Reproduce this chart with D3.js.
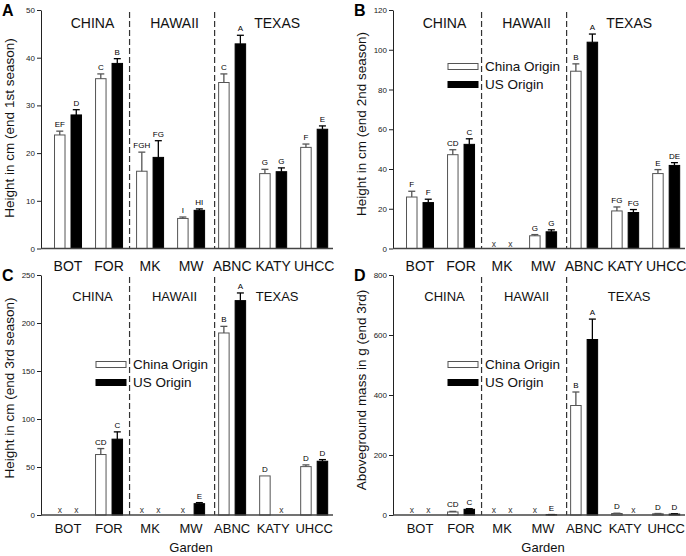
<!DOCTYPE html>
<html>
<head>
<meta charset="utf-8">
<script src="https://cdn.jsdelivr.net/npm/d3@7"></script>
<style>
  body { margin: 0; background: #fff; }
  svg { display: block; font-family: Arial, "Liberation Sans", sans-serif; }
</style>
</head>
<body>
<svg id="chart" width="686" height="556"></svg>
<script>
// gardens and the region each one belongs to
const gardens = ['BOT', 'FOR', 'MK', 'MW', 'ABNC', 'KATY', 'UHCC'];
const regionNames = ['CHINA', 'HAWAII', 'TEXAS'];
const gardenRegion = [0, 0, 1, 1, 2, 2, 2];
const seriesNames = ['China Origin', 'US Origin'];

// A: height end of 1st season (cm)
const s1China = [23.8, 35.6, 16.2, 6.3, 34.8, 15.7, 21.2];
const s1ChinaErr = [0.8, 1.0, 4.0, 0.3, 1.8, 0.9, 0.7];
const s1US = [28.0, 38.8, 19.1, 8.0, 42.9, 16.1, 25.0];
const s1USErr = [1.1, 1.0, 3.5, 0.3, 1.8, 0.8, 0.7];
const s1ChinaLetters = ['EF', 'C', 'FGH', 'I', 'C', 'G', 'F'];
const s1USLetters = ['D', 'B', 'FG', 'HI', 'A', 'G', 'E'];

// B: height end of 2nd season (cm), null = no survivors (x)
const s2China = [25.9, 47.2, null, 6.4, 89.2, 18.9, 37.7];
const s2ChinaErr = [2.9, 2.5, 0, 0.6, 3.7, 2.0, 2.0];
const s2US = [23.1, 52.4, null, 8.4, 103.8, 18.1, 41.8];
const s2USErr = [1.7, 2.8, 0, 1.0, 4.1, 1.5, 1.4];
const s2ChinaLetters = ['F', 'CD', 'x', 'G', 'B', 'FG', 'E'];
const s2USLetters = ['F', 'C', 'x', 'G', 'A', 'FG', 'DE'];

// C: height end of 3rd season (cm)
const s3China = [null, 63.0, null, null, 189.6, 40.7, 50.4];
const s3ChinaErr = [0, 6.2, 0, 0, 6.9, 0, 1.8];
const s3US = [null, 79.0, null, 11.8, 223.3, null, 56.0];
const s3USErr = [0, 7.6, 0, 1.1, 8.0, 0, 1.7];
const s3ChinaLetters = ['x', 'CD', 'x', 'x', 'B', 'D', 'D'];
const s3USLetters = ['x', 'C', 'x', 'E', 'A', 'x', 'D'];

// D: aboveground mass end of 3rd season (g)
const massChina = [null, 10, null, null, 365, 5, 4];
const massChinaErr = [0, 2, 0, 0, 45, 1, 1];
const massUS = [null, 19, null, 1, 585, null, 3];
const massUSErr = [0, 2, 0, 0.5, 68, 0, 1];
const massChinaLetters = ['x', 'CD', 'x', 'x', 'B', 'D', 'D'];
const massUSLetters = ['x', 'C', 'x', 'E', 'A', 'x', 'D'];

const panels = [
    { id: 'A', x0: 41, top: 10, base: 248.5, max: 50, step: 10, ylabel: 'Height in cm (end 1st season)', labelY: 128,
      china: s1China, chinaErr: s1ChinaErr, us: s1US, usErr: s1USErr, chinaL: s1ChinaLetters, usL: s1USLetters,
      legend: false, big: true },
    { id: 'B', x0: 393, top: 10, base: 248.5, max: 120, step: 20, ylabel: 'Height in cm (end 2nd season)', labelY: 124,
      china: s2China, chinaErr: s2ChinaErr, us: s2US, usErr: s2USErr, chinaL: s2ChinaLetters, usL: s2USLetters,
      legend: true, legendY: 66.5, big: true },
    { id: 'C', x0: 41, top: 275, base: 515, max: 250, step: 50, ylabel: 'Height in cm (end 3rd season)', labelY: 388,
      china: s3China, chinaErr: s3ChinaErr, us: s3US, usErr: s3USErr, chinaL: s3ChinaLetters, usL: s3USLetters,
      legend: true, legendY: 364.5, big: false },
    { id: 'D', x0: 393, top: 275, base: 515, max: 800, step: 200, ylabel: 'Aboveground mass in g (end 3rd)', labelY: 390,
      china: massChina, chinaErr: massChinaErr, us: massUS, usErr: massUSErr, chinaL: massChinaLetters, usL: massUSLetters,
      legend: true, legendY: 364.5, big: false }
];

const svg = d3.select('#chart');

panels.forEach(p => {
    const g = svg.append('g');
    const y = d3.scaleLinear().domain([0, p.max]).range([p.base, p.top]);
    const x = d3.scaleBand().domain(gardens).range([p.x0 + 6.5, p.x0 + 6.5 + 287.2]);
    const sub = d3.scaleBand().domain(seriesNames).range([-13.5, 13.5]).paddingInner(0.364);
    const cx = d => x(d) + x.bandwidth() / 2;

    // panel letter
    g.append('text')
        .attr('x', p.x0 - 39)
        .attr('y', p.top + 6)
        .attr('font-size', 16)
        .attr('font-weight', 'bold')
        .text(p.id);

    // dashed separators between regions (the Texas one sits a little right in the original)
    [[2, 0], [4, 3]].forEach(([i, shift]) => {
        g.append('line')
            .attr('x1', x(gardens[i]) + shift).attr('x2', x(gardens[i]) + shift)
            .attr('y1', p.top + 2).attr('y2', p.base)
            .attr('stroke', '#333')
            .attr('stroke-width', 1.2)
            .attr('stroke-dasharray', '6,3');
    });

    // region titles
    regionNames.forEach((r, ri) => {
        const members = gardens.filter((d, i) => gardenRegion[i] === ri);
        g.append('text')
            .attr('x', d3.mean(members, cx) + 4)
            .attr('y', p.top + (p.big ? 18 : 25.5))
            .attr('text-anchor', 'middle')
            .attr('font-size', p.big ? 14 : 13)
            .attr('fill', '#111')
            .text(r);
    });

    // bars, error bars and letters
    const series = [
        { name: seriesNames[0], vals: p.china, errs: p.chinaErr, letters: p.chinaL, fill: '#fff', stroke: '#555' },
        { name: seriesNames[1], vals: p.us, errs: p.usErr, letters: p.usL, fill: '#000', stroke: '#000' }
    ];
    series.forEach(s => {
        gardens.forEach((gd, i) => {
            const bx = cx(gd) + sub(s.name);
            const mid = bx + sub.bandwidth() / 2;
            const v = s.vals[i];
            if (v == null) {
                g.append('text')
                    .attr('x', mid).attr('y', p.base - 2)
                    .attr('text-anchor', 'middle')
                    .attr('font-size', 8.5)
                    .attr('fill', '#333')
                    .text('x');
                return;
            }
            g.append('rect')
                .attr('x', bx)
                .attr('y', y(v))
                .attr('width', sub.bandwidth())
                .attr('height', Math.max(0, p.base - y(v)))
                .attr('fill', s.fill)
                .attr('stroke', s.stroke)
                .attr('stroke-width', 1);
            const e = s.errs[i] || 0;
            const topY = y(v + e);
            if (e > 0) {
                g.append('line')
                    .attr('x1', mid).attr('x2', mid)
                    .attr('y1', y(v)).attr('y2', topY)
                    .attr('stroke', s.stroke).attr('stroke-width', 1.3);
                g.append('line')
                    .attr('x1', mid - 3.5).attr('x2', mid + 3.5)
                    .attr('y1', topY).attr('y2', topY)
                    .attr('stroke', s.stroke).attr('stroke-width', 1.3);
            }
            g.append('text')
                .attr('x', mid)
                .attr('y', topY - 4)
                .attr('text-anchor', 'middle')
                .attr('font-size', 8)
                .attr('fill', '#000')
                .text(s.letters[i]);
        });
    });

    // y axis
    const yAxis = g.append('g')
        .attr('transform', 'translate(' + p.x0 + ',0)')
        .call(d3.axisLeft(y)
            .tickValues(d3.range(0, p.max + 1, p.step))
            .tickSize(4).tickSizeOuter(0).tickPadding(2));
    yAxis.selectAll('text').attr('font-size', 8).attr('fill', '#222').attr('font-family', 'Arial, "Liberation Sans", sans-serif');
    yAxis.selectAll('line, path').attr('stroke', '#222');

    // x baseline
    g.append('line')
        .attr('x1', p.x0).attr('x2', p.x0 + 292)
        .attr('y1', p.base).attr('y2', p.base)
        .attr('stroke', '#444').attr('stroke-width', 1.5);

    // garden names
    gardens.forEach(gd => {
        g.append('text')
            .attr('x', cx(gd))
            .attr('y', p.base + (p.big ? 22 : 17.5))
            .attr('text-anchor', 'middle')
            .attr('font-size', p.big ? 14 : 13)
            .attr('fill', '#111')
            .text(gd);
    });

    if (!p.big) {
        g.append('text')
            .attr('x', p.x0 + 150)
            .attr('y', p.base + 37)
            .attr('text-anchor', 'middle')
            .attr('font-size', 13)
            .attr('fill', '#111')
            .text('Garden');
    }

    // y label
    g.append('text')
        .attr('transform', 'translate(' + (p.x0 - 31.5) + ',' + p.labelY + ') rotate(-90)')
        .attr('text-anchor', 'middle')
        .attr('dy', '0.35em')
        .attr('font-size', 13.5)
        .attr('fill', '#111')
        .text(p.ylabel);

    // legend
    if (p.legend) {
        series.forEach((s, k) => {
            const ly = p.legendY + k * 18;
            g.append('rect')
                .attr('x', p.x0 + 55).attr('y', ly - 3)
                .attr('width', 30).attr('height', 6)
                .attr('fill', s.fill).attr('stroke', s.stroke);
            g.append('text')
                .attr('x', p.x0 + 92).attr('y', ly)
                .attr('dy', '0.35em')
                .attr('font-size', 13.5)
                .attr('fill', '#111')
                .text(s.name);
        });
    }
});
</script>
</body>
</html>
